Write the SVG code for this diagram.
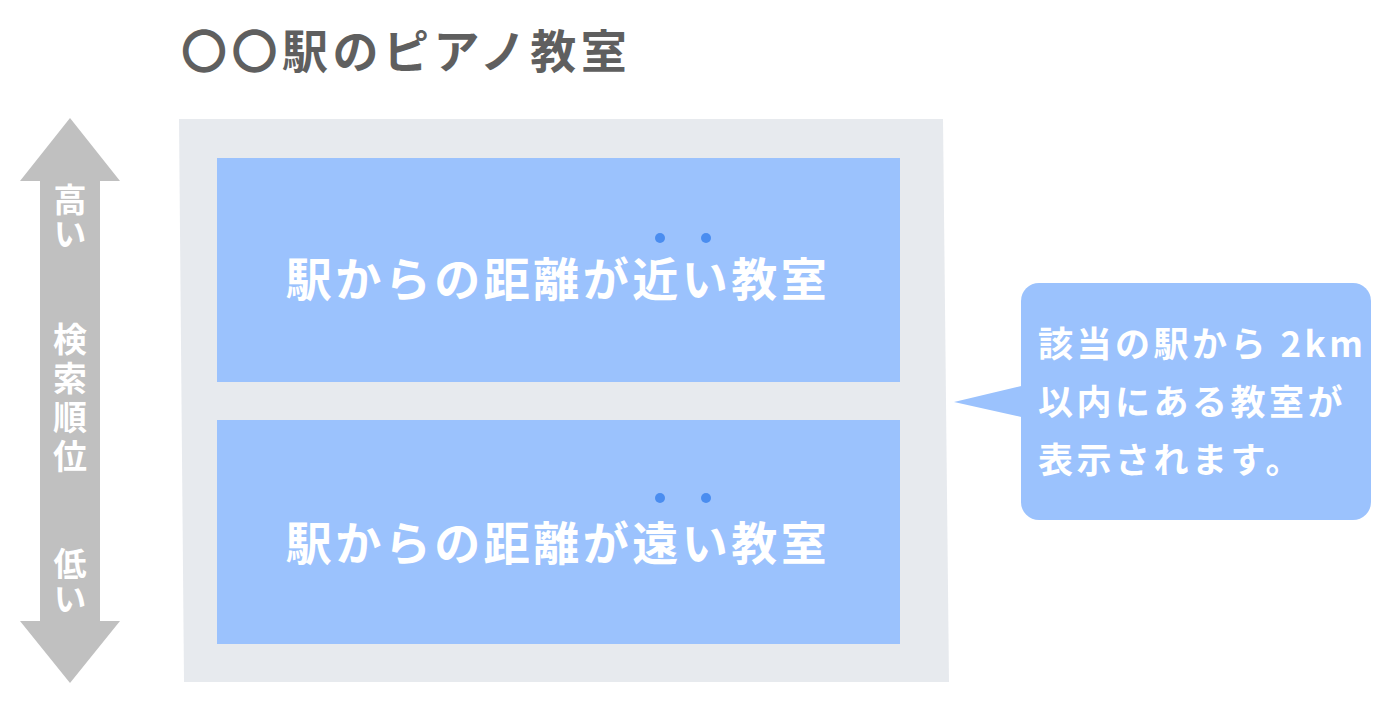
<svg xmlns="http://www.w3.org/2000/svg" width="1400" height="725" viewBox="0 0 1400 725">
<style>
.t{font-family:"Noto Sans CJK JP","Noto Sans CJK SC",sans-serif;font-weight:700}
.w{fill:#ffffff}
.box{fill:#9bc2fd}
.dot{fill:#4a8df0}
.v{writing-mode:vertical-rl;text-orientation:upright}
</style>
<rect width="1400" height="725" fill="#ffffff"/>
<g id="title">
<text class="t" x="181" y="68" font-size="46" letter-spacing="4.5" fill="#5f5f5f">〇〇駅のピアノ教室</text>
</g>
<g id="rank-arrow">
<polygon points="70,118 120,181 100,181 100,621 120,621 70,683 20,621 40,621 40,181 20,181" fill="#c0c0c0"/>
<g class="t w v">
<text x="70" y="183" font-size="33" letter-spacing="1">高い</text>
<text x="70" y="322" font-size="34" letter-spacing="5">検索順位</text>
<text x="70" y="547" font-size="33" letter-spacing="2">低い</text>
</g>
</g>
<g id="panel">
<polygon points="179,119 943,119 949,682 184,682" fill="#e7eaee"/>
</g>
<g id="near">
<rect class="box" x="217" y="158" width="683" height="224"/>
<text class="t w" x="558" y="296" font-size="46" letter-spacing="3.5" text-anchor="middle">駅からの距離が近い教室</text>
<circle class="dot" cx="660" cy="238" r="5"/>
<circle class="dot" cx="706" cy="238" r="5"/>
</g>
<g id="far">
<rect class="box" x="217" y="420" width="683" height="224"/>
<text class="t w" x="558" y="560" font-size="46" letter-spacing="3.5" text-anchor="middle">駅からの距離が遠い教室</text>
<circle class="dot" cx="660" cy="498" r="5"/>
<circle class="dot" cx="706" cy="498" r="5"/>
</g>
<g id="callout">
<polygon class="box" points="954,402 1030,384 1030,419"/>
<rect class="box" x="1021" y="283" width="350" height="237" rx="18"/>
<g class="t w" font-size="35" letter-spacing="3.5">
<text x="1038" y="357">該当の駅から 2km</text>
<text x="1038" y="415">以内にある教室が</text>
<text x="1038" y="473">表示されます。</text>
</g>
</g>
</svg>
